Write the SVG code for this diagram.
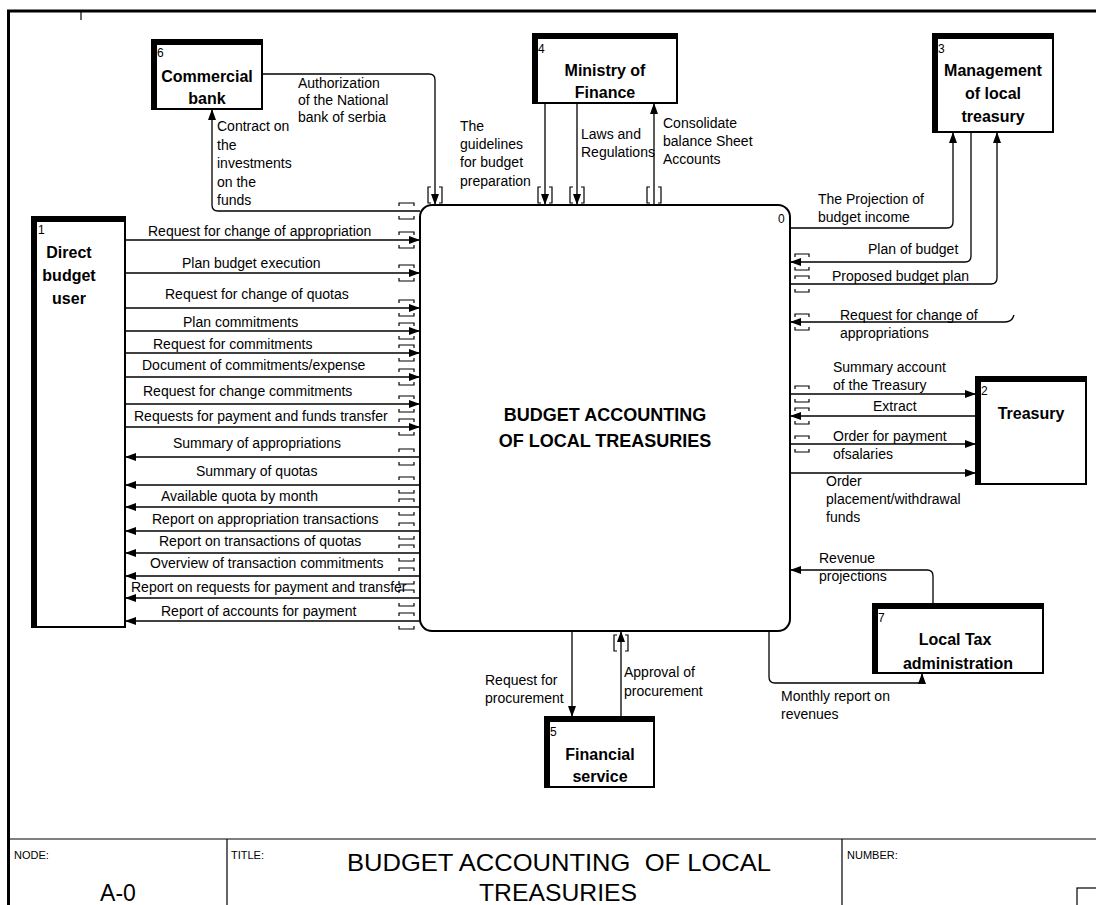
<svg xmlns="http://www.w3.org/2000/svg" width="1096" height="905" viewBox="0 0 1096 905">
<style>
text{font-family:"Liberation Sans",Arial,sans-serif;fill:#000}
.l{font-size:14px}
.n{font-size:12px}
.b{font-size:16px;font-weight:bold;text-anchor:middle}
.c{font-size:18px;font-weight:bold;text-anchor:middle}
.t{font-size:11px}
.fr{fill:none;stroke:#000;stroke-width:3}
.tl{fill:none;stroke:#000;stroke-width:1.2}
.nb{fill:#fff;stroke:#000;stroke-width:2}
.th{fill:none;stroke:#000;stroke-width:5}
.cn{fill:none;stroke:#000;stroke-width:1.3;marker-end:url(#ah)}
.tu{fill:none;stroke:#000;stroke-width:1.2}
</style>
<defs>
<marker id="ah" markerWidth="11" markerHeight="8" refX="11" refY="4" orient="auto" markerUnits="userSpaceOnUse">
<path d="M0,0 L11,4 L0,8 z" fill="#000"/>
</marker>
</defs>
<rect width="1096" height="905" fill="#fff"/>
<g id="frame">
<path class="fr" d="M8.5,905 V11 H1096"/>
<path class="tl" d="M81,11 V20"/>
<path class="tl" d="M8,839 H1096 M227,839 V905 M842,839 V905"/>
<rect class="tl" x="1077" y="888" width="25" height="20"/>
<text class="t" x="14" y="859">NODE:</text>
<text class="t" x="231" y="859">TITLE:</text>
<text class="t" x="847" y="859">NUMBER:</text>
<text x="118" y="901" font-size="23" text-anchor="middle">A-0</text>
<text x="559" y="871" font-size="24" text-anchor="middle" textLength="424" lengthAdjust="spacingAndGlyphs" xml:space="preserve">BUDGET ACCOUNTING  OF LOCAL</text>
<text x="558" y="901" font-size="24" text-anchor="middle" textLength="158" lengthAdjust="spacingAndGlyphs">TREASURIES</text>
</g>
<g id="connectors">
<path class="cn" d="M125,240 H420"/>
<path class="cn" d="M125,273 H420"/>
<path class="cn" d="M125,308 H420"/>
<path class="cn" d="M125,331 H420"/>
<path class="cn" d="M125,353 H420"/>
<path class="cn" d="M125,377 H420"/>
<path class="cn" d="M125,404 H420"/>
<path class="cn" d="M125,427 H420"/>
<path class="cn" d="M420,457 H125"/>
<path class="cn" d="M420,485 H125"/>
<path class="cn" d="M420,507 H125"/>
<path class="cn" d="M420,531 H125"/>
<path class="cn" d="M420,553 H125"/>
<path class="cn" d="M420,576 H125"/>
<path class="cn" d="M420,598 H125"/>
<path class="cn" d="M420,621 H125"/>
<path class="cn" d="M420,211 H218 Q212,211 212,205 V109"/>
<path class="cn" d="M262,74 H429 Q435,74 435,80 V205"/>
<path class="cn" d="M545,103 V205"/>
<path class="cn" d="M577,103 V205"/>
<path class="cn" d="M654,205 V103"/>
<path class="cn" d="M790,228 H947 Q953,228 953,222 V132"/>
<path class="cn" d="M971,132 V256 Q971,262 965,262 H790"/>
<path class="cn" d="M790,284 H991 Q997,284 997,278 V132"/>
<path class="cn" d="M1014,315 Q1012,322 1005,322 H790"/>
<path class="cn" d="M790,394 H976"/>
<path class="cn" d="M976,416 H790"/>
<path class="cn" d="M790,444 H976"/>
<path class="cn" d="M790,473 H976"/>
<path class="cn" d="M933,604 V576 Q933,570 927,570 H790"/>
<path class="cn" d="M769,631 V677 Q769,683 775,683 H922 V673"/>
<path class="cn" d="M572,631 V717"/>
<path class="cn" d="M621,717 V631"/>
<path class="tu" d="M399,206v-3h15v3M399,216v3h15v-3 M399,235v-3h15v3M399,245v3h15v-3 M399,268v-3h15v3M399,278v3h15v-3 M399,303v-3h15v3M399,313v3h15v-3 M399,326v-3h15v3M399,336v3h15v-3 M399,348v-3h15v3M399,358v3h15v-3 M399,372v-3h15v3M399,382v3h15v-3 M399,399v-3h15v3M399,409v3h15v-3 M399,422v-3h15v3M399,432v3h15v-3 M399,452v-3h15v3M399,462v3h15v-3 M399,480v-3h15v3M399,490v3h15v-3 M399,502v-3h15v3M399,512v3h15v-3 M399,526v-3h15v3M399,536v3h15v-3 M399,548v-3h15v3M399,558v3h15v-3 M399,571v-3h15v3M399,581v3h15v-3 M399,593v-3h15v3M399,603v3h15v-3 M399,616v-3h15v3M399,626v3h15v-3"/>
<path class="tu" d="M795,257v-3h14v3M795,267v3h14v-3 M795,279v-3h14v3M795,289v3h14v-3 M795,317v-3h14v3M795,327v3h14v-3 M795,389v-3h14v3M795,399v3h14v-3 M795,411v-3h14v3M795,421v3h14v-3 M795,439v-3h14v3M795,449v3h14v-3"/>
<path class="tu" d="M431,187h-3v16h3M439,187h3v16h-3 M541,187h-3v16h3M549,187h3v16h-3 M573,187h-3v16h3M581,187h3v16h-3 M650,187h-3v16h3M658,187h3v16h-3 M617,635h-3v16h3M625,635h3v16h-3"/>
</g>
<g id="labels">
<text class="l" x="148" y="236">Request for change of appropriation</text>
<text class="l" x="182" y="268">Plan budget execution</text>
<text class="l" x="165" y="299">Request for change of quotas</text>
<text class="l" x="183" y="327">Plan commitments</text>
<text class="l" x="153" y="349">Request for commitments</text>
<text class="l" x="142" y="370">Document of commitments/expense</text>
<text class="l" x="143" y="396">Request for change commitments</text>
<text class="l" x="134" y="421">Requests for payment and funds transfer</text>
<text class="l" x="173" y="448">Summary of appropriations</text>
<text class="l" x="196" y="476">Summary of quotas</text>
<text class="l" x="161" y="501">Available quota by month</text>
<text class="l" x="152" y="524">Report on appropriation transactions</text>
<text class="l" x="159" y="546">Report on transactions of quotas</text>
<text class="l" x="150" y="568">Overview of transaction commitments</text>
<text class="l" x="131" y="592">Report on requests for payment and transfer</text>
<text class="l" x="161" y="616">Report of accounts for payment</text>
<text class="l" x="298" y="88">Authorization</text>
<text class="l" x="298" y="105">of the National</text>
<text class="l" x="298" y="122">bank of serbia</text>
<text class="l" x="217" y="131">Contract on</text>
<text class="l" x="217" y="150">the</text>
<text class="l" x="217" y="168">investments</text>
<text class="l" x="217" y="187">on the</text>
<text class="l" x="217" y="205">funds</text>
<text class="l" x="460" y="131">The</text>
<text class="l" x="460" y="149">guidelines</text>
<text class="l" x="460" y="167">for budget</text>
<text class="l" x="460" y="186">preparation</text>
<text class="l" x="581" y="139">Laws and</text>
<text class="l" x="581" y="157">Regulations</text>
<text class="l" x="663" y="128">Consolidate</text>
<text class="l" x="663" y="146">balance Sheet</text>
<text class="l" x="663" y="164">Accounts</text>
<text class="l" x="818" y="204">The Projection of</text>
<text class="l" x="818" y="222">budget income</text>
<text class="l" x="868" y="254">Plan of budget</text>
<text class="l" x="832" y="281">Proposed budget plan</text>
<text class="l" x="840" y="320">Request for change of</text>
<text class="l" x="840" y="338">appropriations</text>
<text class="l" x="833" y="372">Summary account</text>
<text class="l" x="833" y="390">of the Treasury</text>
<text class="l" x="873" y="411">Extract</text>
<text class="l" x="833" y="441">Order for payment</text>
<text class="l" x="833" y="459">ofsalaries</text>
<text class="l" x="826" y="486">Order</text>
<text class="l" x="826" y="504">placement/withdrawal</text>
<text class="l" x="826" y="522">funds</text>
<text class="l" x="819" y="563">Revenue</text>
<text class="l" x="819" y="581">projections</text>
<text class="l" x="781" y="701">Monthly report on</text>
<text class="l" x="781" y="719">revenues</text>
<text class="l" x="485" y="685">Request for</text>
<text class="l" x="485" y="703">procurement</text>
<text class="l" x="624" y="677">Approval of</text>
<text class="l" x="624" y="696">procurement</text>
</g>
<g id="node0">
<rect x="420" y="205" width="370" height="426" rx="12" fill="none" stroke="#000" stroke-width="2"/>
<text class="n" x="778" y="223">0</text>
<text class="c" x="605" y="421">BUDGET ACCOUNTING</text>
<text class="c" x="605" y="447">OF LOCAL TREASURIES</text>
</g>
<g id="node1">
<rect class="nb" x="32" y="217" width="93" height="410"/>
<path class="th" d="M34.5,627 V219.5 H125"/>
<text class="n" x="38" y="234">1</text>
<text class="b" x="69" y="258">Direct</text>
<text class="b" x="69" y="281">budget</text>
<text class="b" x="69" y="304">user</text>
</g>
<g id="node2">
<rect class="nb" x="976" y="377" width="110" height="107"/>
<path class="th" d="M978.5,484 V379.5 H1086"/>
<text class="n" x="981" y="395">2</text>
<text class="b" x="1031" y="419">Treasury</text>
</g>
<g id="node3">
<rect class="nb" x="933" y="34" width="120" height="98"/>
<path class="th" d="M935.5,132 V36.5 H1053"/>
<text class="n" x="938" y="53">3</text>
<text class="b" x="993" y="76">Management</text>
<text class="b" x="993" y="99">of local</text>
<text class="b" x="993" y="122">treasury</text>
</g>
<g id="node4">
<rect class="nb" x="533" y="34" width="144" height="69"/>
<path class="th" d="M535.5,103 V36.5 H677"/>
<text class="n" x="538" y="53">4</text>
<text class="b" x="605" y="76">Ministry of</text>
<text class="b" x="605" y="98">Finance</text>
</g>
<g id="node5">
<rect class="nb" x="545" y="717" width="109" height="70"/>
<path class="th" d="M547.5,787 V719.5 H654"/>
<text class="n" x="550" y="736">5</text>
<text class="b" x="600" y="760">Financial</text>
<text class="b" x="600" y="782">service</text>
</g>
<g id="node6">
<rect class="nb" x="152" y="40" width="110" height="69"/>
<path class="th" d="M154.5,109 V42.5 H262"/>
<text class="n" x="157" y="57">6</text>
<text class="b" x="207" y="82">Commercial</text>
<text class="b" x="207" y="104">bank</text>
</g>
<g id="node7">
<rect class="nb" x="873" y="604" width="170" height="69"/>
<path class="th" d="M875.5,673 V606.5 H1043"/>
<text class="n" x="878" y="622">7</text>
<text class="b" x="955" y="645">Local Tax</text>
<text class="b" x="958" y="669">administration</text>
</g>
</svg>
